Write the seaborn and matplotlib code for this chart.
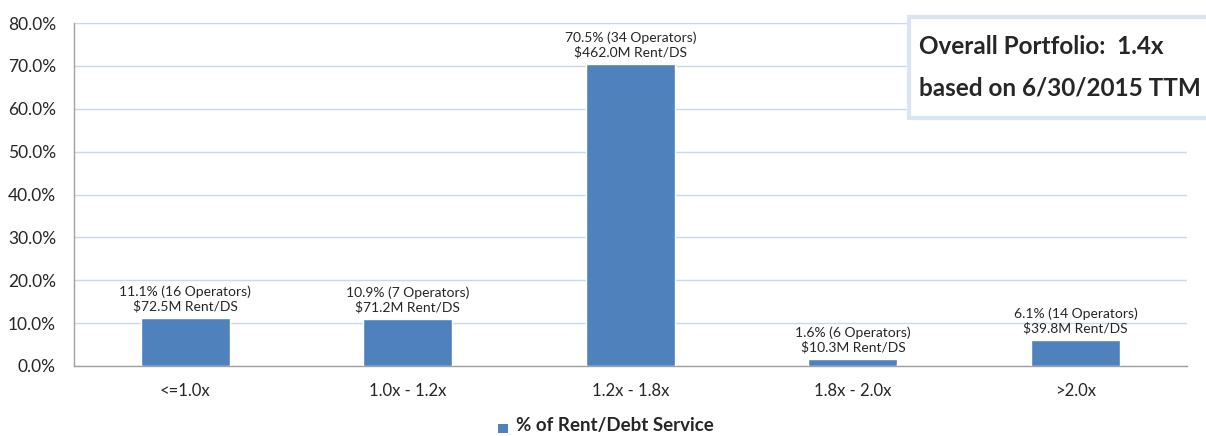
import pandas as pd
import seaborn as sns
import matplotlib.pyplot as plt
from matplotlib.ticker import PercentFormatter, FixedLocator
from matplotlib.patches import Rectangle

# Data
categories = ['<=1.0x', '1.0x - 1.2x', '1.2x - 1.8x', '1.8x - 2.0x', '>2.0x']
pct_rent = [11.1, 10.9, 70.5, 1.6, 6.1]
operators = [16, 7, 34, 6, 14]
rent_ds = [72.5, 71.2, 462.0, 10.3, 39.8]

BAR_COLOR = '#4f81bd'
GRID_COLOR = '#c6d9f1'
AXIS_COLOR = '#a0a0a0'

sns.set_style('white')
plt.rcParams['font.family'] = ['Lato', 'DejaVu Sans']

df = pd.DataFrame({'bucket': categories, 'pct': pct_rent})

fig = plt.figure(figsize=(12.06, 4.36), dpi=100)
ax = fig.add_axes([0.0614, 0.1606, 0.9226, 0.7864])

sns.barplot(data=df, x='bucket', y='pct', color=BAR_COLOR, width=0.4,
            saturation=1, ax=ax, zorder=3)

ax.set_ylim(0, 80)
ax.set_xlim(-0.5, len(categories) - 0.5)
ax.set_yticks(range(0, 81, 10))
ax.yaxis.set_major_formatter(PercentFormatter(decimals=1))
ax.grid(axis='y', color=GRID_COLOR, linewidth=1, zorder=0)
ax.set_axisbelow(True)
ax.set_xlabel('')
ax.set_ylabel('')

for side in ['top', 'right']:
    ax.spines[side].set_visible(False)
for side in ['left', 'bottom']:
    ax.spines[side].set_color(AXIS_COLOR)
    ax.spines[side].set_linewidth(1)

ax.tick_params(axis='y', length=5, color=AXIS_COLOR, labelsize=12.5, pad=8)
ax.tick_params(axis='x', which='major', length=0, labelsize=12, pad=12)
ax.xaxis.set_minor_locator(FixedLocator([i + 0.5 for i in range(len(categories) - 1)]))
ax.tick_params(axis='x', which='minor', length=5, color=AXIS_COLOR)

# Data labels above bars
for i, (p, n, r) in enumerate(zip(pct_rent, operators, rent_ds)):
    ax.annotate(f'{p}% ({n} Operators)\n${r:.1f}M Rent/DS', (i, p),
                xytext=(0, 4), textcoords='offset points',
                ha='center', va='bottom', fontsize=10, linespacing=1.2)

# Summary text box
box = Rectangle((0.754, 0.73), 0.26, 0.232, transform=fig.transFigure,
                facecolor='white', edgecolor='#dbe5f1', linewidth=3, zorder=5)
fig.add_artist(box)
fig.text(0.762, 0.893, 'Overall Portfolio:  1.4x', fontsize=17.5, fontweight='bold',
         va='center', ha='left', zorder=6)
fig.text(0.762, 0.798, 'based on 6/30/2015 TTM', fontsize=17.5, fontweight='bold',
         va='center', ha='left', zorder=6)

# Legend at the bottom
fig.add_artist(Rectangle((0.413, 0.006), 0.008, 0.022, transform=fig.transFigure,
                         facecolor=BAR_COLOR, edgecolor='none'))
fig.text(0.428, 0.004, '% of Rent/Debt Service', fontsize=13.5, fontweight='bold',
         va='bottom', ha='left')

fig.savefig('out.png', dpi=100)
